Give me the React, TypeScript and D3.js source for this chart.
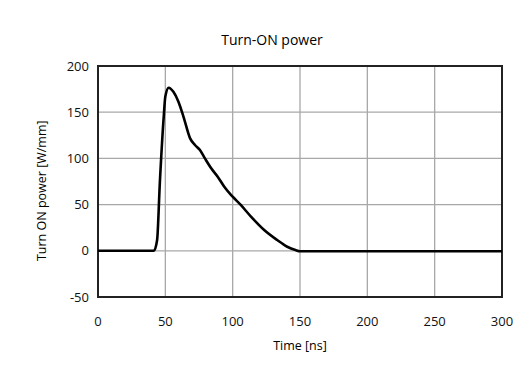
import * as d3 from "d3";

// Turn-ON power waveform
const timeNs = [0, 10, 20, 30, 38, 41.5, 43.9, 45.9, 48.8, 50, 52.5, 56, 59.8, 63.5, 68.4, 72, 75.7, 79.4, 84.2, 89, 93.9, 100, 106, 113.6, 123.4, 133, 140.5, 146.6, 150, 160, 200, 250, 300];
const powerWmm = [0, 0, 0, 0, 0, 0, 11.7, 73, 145, 167, 176.5, 172, 161, 145, 121.7, 114.5, 109, 100, 89, 80, 69, 58.5, 49.6, 37, 22.5, 11.7, 4.4, 0.8, -0.5, -0.5, -0.5, -0.5, -0.5];

const xTicks = [0, 50, 100, 150, 200, 250, 300];
const yTicks = [-50, 0, 50, 100, 150, 200];

const W = 528;
const H = 367;
const margin = { left: 98, right: 26, top: 66, bottom: 70 };

export default function App() {
  const x = d3.scaleLinear().domain([0, 300]).range([margin.left, W - margin.right]);
  const y = d3.scaleLinear().domain([-50, 200]).range([H - margin.bottom, margin.top]);

  const pts = timeNs.map((t, i) => [t, powerWmm[i]] as [number, number]);
  const line = d3
    .line<[number, number]>()
    .x((d) => x(d[0]))
    .y((d) => y(d[1]))
    .curve(d3.curveMonotoneX);

  const font = "'Open Sans', sans-serif";

  return (
    <svg
      width={W}
      height={H}
      style={{ position: "absolute", left: 0, top: 0, background: "#fff" }}
      fontFamily={font}
    >
      <text x={272} y={45} textAnchor="middle" fontSize={14} fill="#000">
        Turn-ON power
      </text>

      {/* grid */}
      {xTicks.map((t) => (
        <line key={"gx" + t} x1={x(t)} x2={x(t)} y1={y(200)} y2={y(-50)} stroke="#a8a8a8" strokeWidth={1.3} />
      ))}
      {yTicks.map((t) => (
        <line key={"gy" + t} x1={x(0)} x2={x(300)} y1={y(t)} y2={y(t)} stroke="#a8a8a8" strokeWidth={1.3} />
      ))}

      {/* plot border */}
      <rect
        x={x(0)}
        y={y(200)}
        width={x(300) - x(0)}
        height={y(-50) - y(200)}
        fill="none"
        stroke="#222"
        strokeWidth={2}
      />

      <path d={line(pts) ?? ""} fill="none" stroke="#000" strokeWidth={2.6} strokeLinejoin="round" />

      {/* tick labels */}
      {yTicks.map((t) => (
        <text key={"ly" + t} x={x(0) - 9} y={y(t) + 4.5} textAnchor="end" fontSize={13} fill="#111">
          {t}
        </text>
      ))}
      {xTicks.map((t) => (
        <text key={"lx" + t} x={x(t)} y={y(-50) + 29} textAnchor="middle" fontSize={13} fill="#111">
          {t}
        </text>
      ))}

      <text x={x(150)} y={H - 17} textAnchor="middle" fontSize={12.5} fill="#000">
        Time [ns]
      </text>
      <text
        transform={`translate(46,${y(65)}) rotate(-90)`}
        textAnchor="middle"
        fontSize={12.5}
        fill="#000"
      >
        Turn ON power [W/mm]
      </text>
    </svg>
  );
}
